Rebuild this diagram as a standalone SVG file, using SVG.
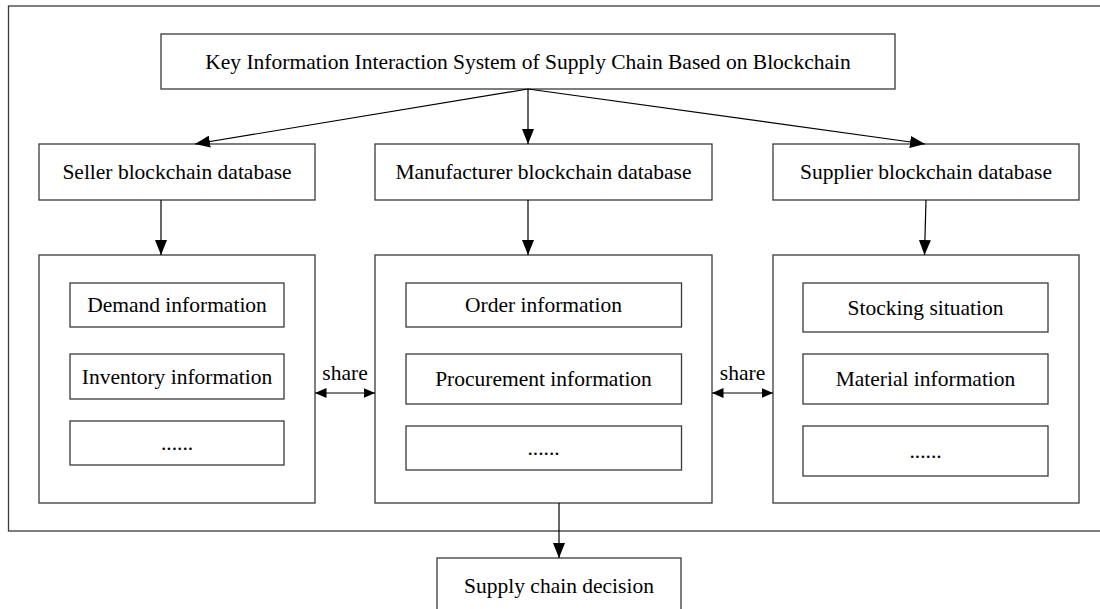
<svg xmlns="http://www.w3.org/2000/svg" width="1100" height="609" viewBox="0 0 1100 609">
<style>
  .box { fill: #fff; stroke: #3a3a3a; stroke-width: 1.3; }
  .frame { fill: none; stroke: #3a3a3a; stroke-width: 1.3; }
  .t { font-family: "Liberation Serif", "Times New Roman", serif; font-size: 21.5px; fill: #000; text-anchor: middle; }
  .conn { stroke: #000; stroke-width: 1.2; fill: none; }
</style>
<defs>
  <marker id="ah" markerUnits="userSpaceOnUse" markerWidth="16" markerHeight="12" refX="15" refY="6" orient="auto">
    <path d="M0,0 L15,6 L0,12 z" fill="#000"/>
  </marker>
  <marker id="sh" markerUnits="userSpaceOnUse" markerWidth="12" markerHeight="10" refX="11.5" refY="5" orient="auto-start-reverse">
    <path d="M0,0 L11.5,5 L0,10 z" fill="#000"/>
  </marker>
</defs>
<rect width="1100" height="609" fill="#fff"/>
<rect id="frame" class="frame" x="8.5" y="6" width="1100" height="525"/>

<g id="top">
  <rect class="box" x="161" y="34" width="734" height="55"/>
  <text class="t" x="528" y="69">Key Information Interaction System of Supply Chain Based on Blockchain</text>
</g>
<g id="seller-db">
  <rect class="box" x="39" y="144" width="276" height="56"/>
  <text class="t" x="177" y="179">Seller blockchain database</text>
</g>
<g id="manufacturer-db">
  <rect class="box" x="375" y="144" width="337" height="56"/>
  <text class="t" x="543.5" y="179">Manufacturer blockchain database</text>
</g>
<g id="supplier-db">
  <rect class="box" x="773" y="144" width="306" height="56"/>
  <text class="t" x="926" y="179">Supplier blockchain database</text>
</g>

<g id="seller-info">
  <rect class="box" x="39" y="255" width="276" height="248"/>
  <rect class="box" x="70" y="283" width="214" height="44"/>
  <text class="t" x="177" y="311.5">Demand information</text>
  <rect class="box" x="70" y="354" width="214" height="45"/>
  <text class="t" x="177" y="383.5">Inventory information</text>
  <rect class="box" x="70" y="421" width="214" height="44"/>
  <text class="t" x="177" y="450">......</text>
</g>
<g id="manufacturer-info">
  <rect class="box" x="375" y="255" width="337" height="248"/>
  <rect class="box" x="406" y="283" width="275.5" height="44"/>
  <text class="t" x="543.5" y="311.5">Order information</text>
  <rect class="box" x="406" y="354" width="275.5" height="50"/>
  <text class="t" x="543.5" y="386">Procurement information</text>
  <rect class="box" x="406" y="426" width="275.5" height="44"/>
  <text class="t" x="543.5" y="455">......</text>
</g>
<g id="supplier-info">
  <rect class="box" x="773" y="255" width="306" height="248"/>
  <rect class="box" x="803" y="283" width="245" height="49"/>
  <text class="t" x="925.5" y="314.5">Stocking situation</text>
  <rect class="box" x="803" y="354" width="245" height="50"/>
  <text class="t" x="925.5" y="386">Material information</text>
  <rect class="box" x="803" y="426" width="245" height="50"/>
  <text class="t" x="925.5" y="458">......</text>
</g>

<g id="decision">
  <rect class="box" x="437" y="558" width="244" height="70"/>
  <text class="t" x="559" y="593">Supply chain decision</text>
</g>

<g id="connectors">
  <line class="conn" x1="528" y1="89" x2="195" y2="144" marker-end="url(#ah)"/>
  <line class="conn" x1="528" y1="89" x2="528" y2="144" marker-end="url(#ah)"/>
  <line class="conn" x1="528" y1="89" x2="925" y2="144" marker-end="url(#ah)"/>
  <line class="conn" x1="161" y1="200" x2="161" y2="255" marker-end="url(#ah)"/>
  <line class="conn" x1="528" y1="200" x2="528" y2="255" marker-end="url(#ah)"/>
  <line class="conn" x1="926" y1="200" x2="924.5" y2="255" marker-end="url(#ah)"/>
  <line class="conn" x1="315" y1="393" x2="375" y2="393" marker-start="url(#sh)" marker-end="url(#sh)"/>
  <line class="conn" x1="712" y1="393" x2="773" y2="393" marker-start="url(#sh)" marker-end="url(#sh)"/>
  <line class="conn" x1="559" y1="503" x2="559" y2="558" marker-end="url(#ah)"/>
  <text class="t" x="345" y="380">share</text>
  <text class="t" x="742.5" y="380">share</text>
</g>
</svg>
